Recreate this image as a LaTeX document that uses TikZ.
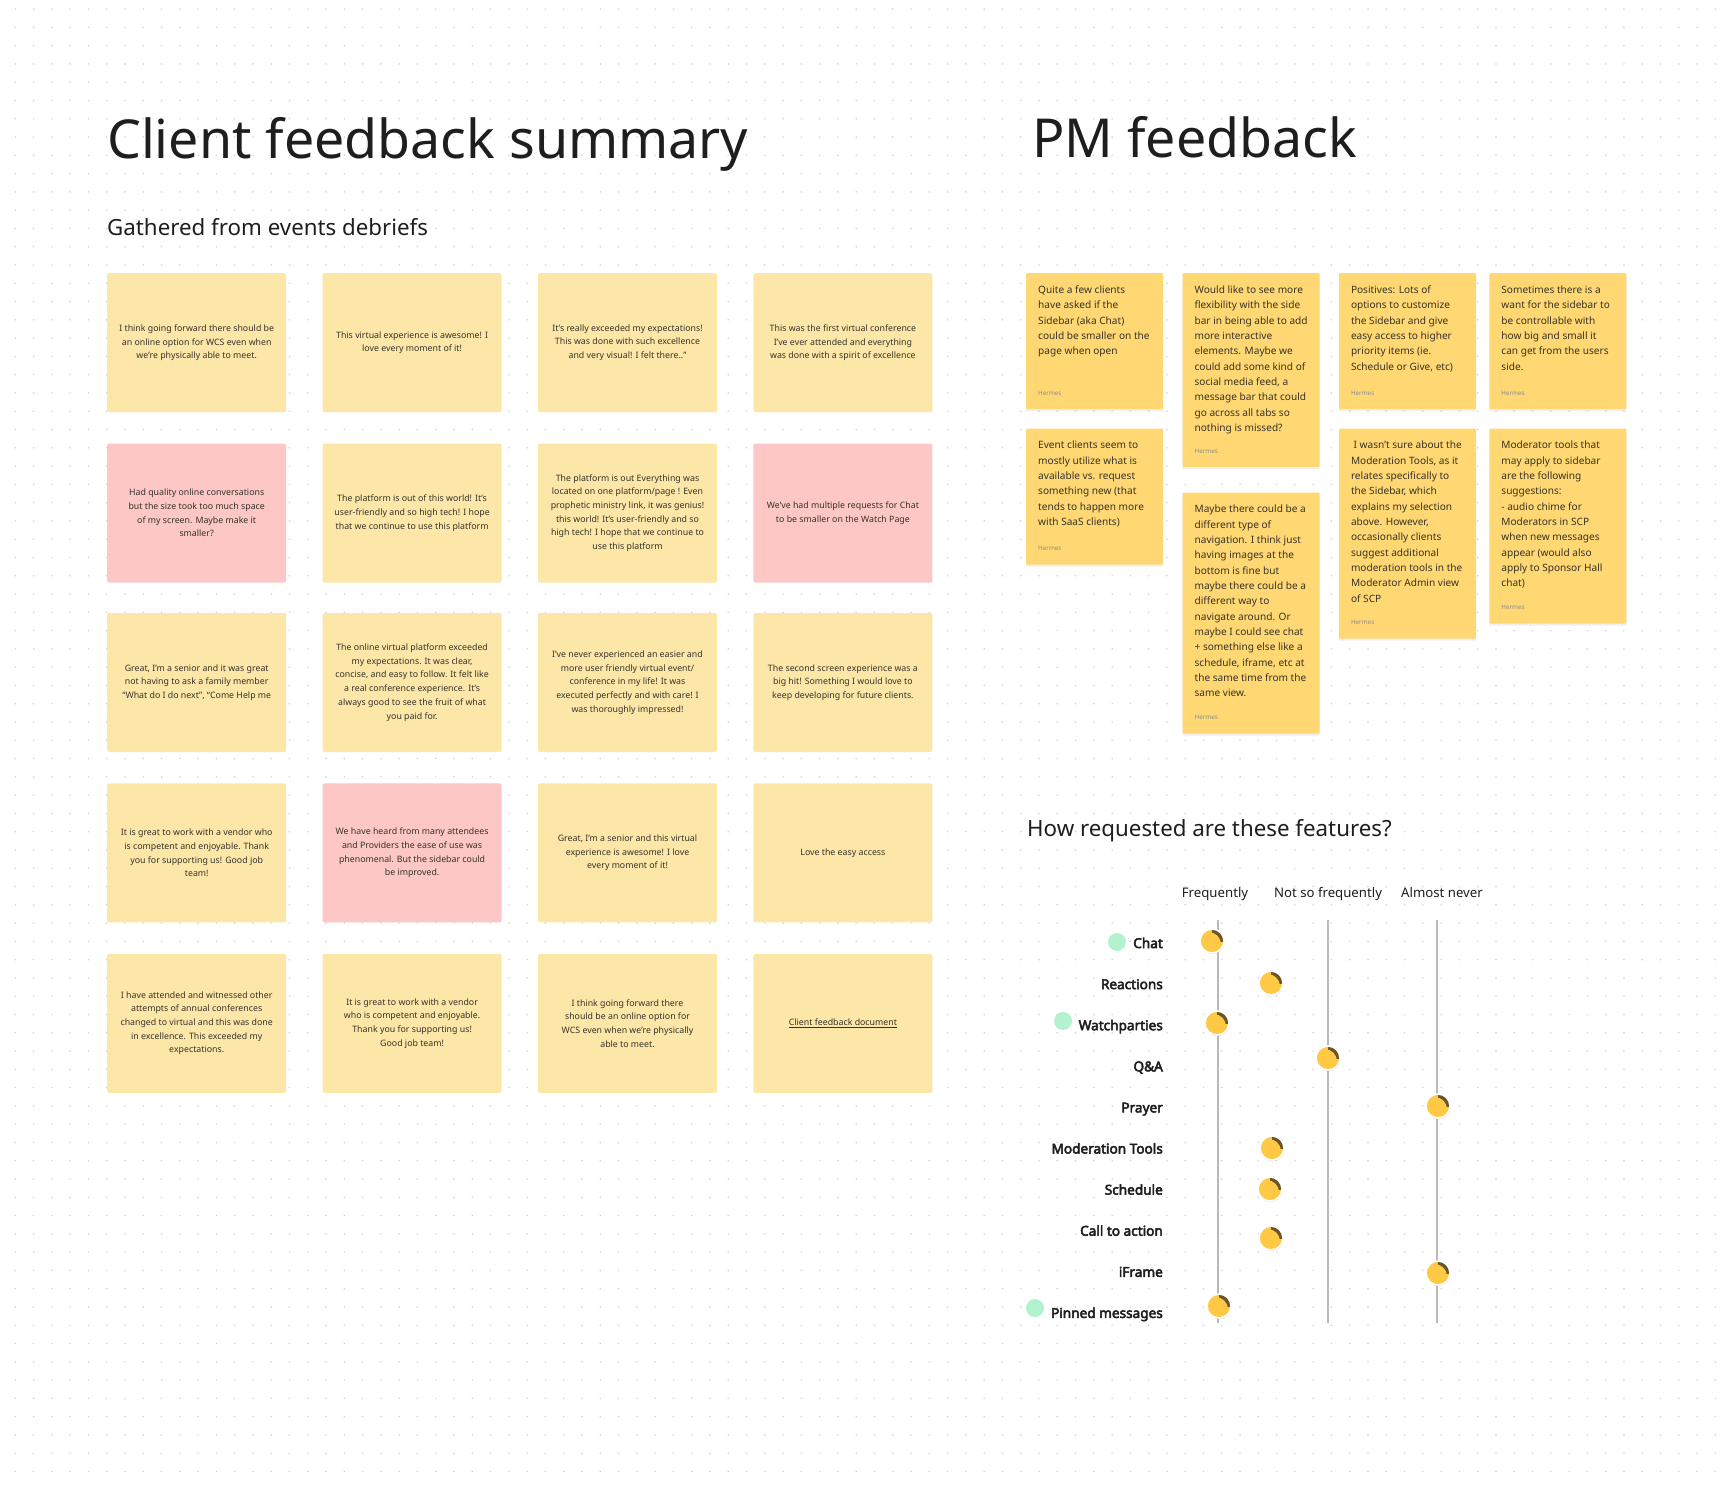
\documentclass[tikz,border=0pt]{standalone}
\usepackage{fontspec}
\setmainfont{Noto Sans}[AutoFakeBold=3.6]
\usetikzlibrary{positioning, shadows}

\definecolor{notelight}{RGB}{252,231,168}
\definecolor{notepink}{RGB}{252,199,196}
\definecolor{pmyellow}{RGB}{255,216,115}
\definecolor{stickeryellow}{RGB}{255,201,70}
\definecolor{curlbrown}{RGB}{105,86,40}
\definecolor{mint}{RGB}{178,242,206}
\definecolor{inkdark}{RGB}{30,30,30}
\definecolor{notetext}{RGB}{55,50,40}
\definecolor{dotgray}{RGB}{208,208,208}
\definecolor{scalegray}{RGB}{185,185,185}

\newcommand{\titlefont}{\fontsize{53.7}{60}\selectfont}
\newcommand{\subfont}{\fontsize{22.3}{26}\selectfont}
\newcommand{\clientfont}{\fontsize{8.8}{13.7}\selectfont}
\newcommand{\pmfont}{\fontsize{10.1}{15.33}\selectfont}
\newcommand{\byfont}{\fontsize{6.3}{8}\selectfont}
\newcommand{\headfont}{\fontsize{13.2}{16}\selectfont}
\newcommand{\rowfont}{\fontsize{13.6}{16}\selectfont\bfseries}

\tikzset{
    griddots/.style={draw=dotgray, line width=1.7pt, line cap=round, dash pattern=on 0pt off 18.28pt}, % the canvas dots
    titletext/.style={anchor=base west, inner sep=0pt, text=inkdark, font=\titlefont},
    subtext/.style={anchor=base west, inner sep=0pt, text=inkdark, font=\subfont},
    clientnote/.style={anchor=north west, fill=notelight, rounded corners=2pt, minimum width=179pt, minimum height=139pt, inner sep=4pt, align=center, text=notetext, font=\clientfont},
    clientpink/.style={clientnote, fill=notepink},
    pmnote/.style={anchor=north west, fill=pmyellow, rounded corners=1pt, minimum width=137pt, inner sep=0pt, drop shadow={shadow xshift=0pt, shadow yshift=-2pt, opacity=.12}},
    pmtext/.style={anchor=north west, inner xsep=12pt, inner ysep=12.5pt, align=left, text=notetext, font=\pmfont},
    byline/.style={anchor=base west, inner sep=0pt, text=black!45, font=\byfont},
    colhead/.style={anchor=base, inner sep=0pt, text=inkdark, font=\headfont},
    rowlabel/.style={anchor=base east, inner sep=0pt, text=inkdark, font=\rowfont},
    scaleline/.style={draw=scalegray, line width=1.3pt},
    mintdot/.style={circle, fill=mint, minimum size=18pt, inner sep=0pt},
    sticker/.style={circle, fill=stickeryellow, draw=white, line width=1.6pt, minimum size=24pt, inner sep=0pt,
        drop shadow={shadow xshift=0.4pt, shadow yshift=-1.4pt, opacity=.2},
        path picture={
            \clip (path picture bounding box.center) rectangle ++(15pt,15pt);
            \fill[curlbrown, even odd rule] (path picture bounding box.center) circle[radius=12pt]
                ([shift={(-3pt,-3pt)}]path picture bounding box.center) circle[radius=12pt];
        }}, % round pin with a curled edge
}

\begin{document}
\begin{tikzpicture}[x=1pt, y=-1pt]
\useasboundingbox (0,0) rectangle (1730,1488);
\fill[white] (0,0) rectangle (1730,1488);
% dotted canvas
\foreach \r in {0,...,80}
    \draw[griddots] (15.3,9.1+\r*18.28) -- (1730,9.1+\r*18.28);

% headings
\node[titletext] (t-client) at (107,158) {Client feedback summary};
\node[subtext] (t-gathered) at (107,235) {Gathered from events debriefs};
\node[titletext] (t-pm) at (1032,157) {PM feedback};

% client feedback notes
\node[clientnote] (c11) at (107,273) {I think going forward there should be\\an online option for WCS even when\\we're physically able to meet.};
\node[clientnote, right=36pt of c11] (c12) {This virtual experience is awesome! I\\love every moment of it!};
\node[clientnote, right=36pt of c12] (c13) {It's really exceeded my expectations!\\This was done with such excellence\\and very visual! I felt there..”};
\node[clientnote, right=36pt of c13] (c14) {This was the first virtual conference\\I've ever attended and everything\\was done with a spirit of excellence};

\node[clientpink, below=31pt of c11] (c21) {Had quality online conversations\\but the size took too much space\\of my screen. Maybe make it\\smaller?};
\node[clientnote, right=36pt of c21] (c22) {The platform is out of this world! It's\\user-friendly and so high tech! I hope\\that we continue to use this platform};
\node[clientnote, right=36pt of c22] (c23) {The platform is out Everything was\\located on one platform/page ! Even\\prophetic ministry link, it was genius!\\this world! It's user-friendly and so\\high tech! I hope that we continue to\\use this platform};
\node[clientpink, right=36pt of c23] (c24) {We've had multiple requests for Chat\\to be smaller on the Watch Page};

\node[clientnote, below=30pt of c21] (c31) {Great, I'm a senior and it was great\\not having to ask a family member\\“What do I do next”, “Come Help me};
\node[clientnote, right=36pt of c31] (c32) {The online virtual platform exceeded\\my expectations. It was clear,\\concise, and easy to follow. It felt like\\a real conference experience. It's\\always good to see the fruit of what\\you paid for.};
\node[clientnote, right=36pt of c32] (c33) {I've never experienced an easier and\\more user friendly virtual event/\\conference in my life! It was\\executed perfectly and with care! I\\was thoroughly impressed!};
\node[clientnote, right=36pt of c33] (c34) {The second screen experience was a\\big hit! Something I would love to\\keep developing for future clients.};

\node[clientnote, below=31pt of c31] (c41) {It is great to work with a vendor who\\is competent and enjoyable. Thank\\you for supporting us! Good job\\team!};
\node[clientpink, right=36pt of c41] (c42) {We have heard from many attendees\\and Providers the ease of use was\\phenomenal. But the sidebar could\\be improved.};
\node[clientnote, right=36pt of c42] (c43) {Great, I'm a senior and this virtual\\experience is awesome! I love\\every moment of it!};
\node[clientnote, right=36pt of c43] (c44) {Love the easy access};

\node[clientnote, below=31pt of c41] (c51) {I have attended and witnessed other\\attempts of annual conferences\\changed to virtual and this was done\\in excellence. This exceeded my\\expectations.};
\node[clientnote, right=36pt of c51] (c52) {It is great to work with a vendor\\who is competent and enjoyable.\\Thank you for supporting us!\\Good job team!};
\node[clientnote, right=36pt of c52] (c53) {I think going forward there\\should be an online option for\\WCS even when we're physically\\able to meet.};
\node[clientnote, right=36pt of c53] (c54) {\underline{Client feedback document}};

% PM feedback notes
\node[pmnote, minimum height=136pt] (pa) at (1026,273) {};
\node[pmnote, minimum height=194pt, right=19pt of pa.north east, anchor=north west] (pb) {};
\node[pmnote, minimum height=136pt, right=19pt of pb.north east, anchor=north west] (pc) {};
\node[pmnote, minimum height=136pt, right=13pt of pc.north east, anchor=north west] (pd) {};
\node[pmnote, minimum height=136pt, below=19pt of pa.south west, anchor=north west] (pe) {};
\node[pmnote, minimum height=241pt, below=25pt of pb.south west, anchor=north west] (pf) {};
\node[pmnote, minimum height=210pt, below=19pt of pc.south west, anchor=north west] (pg) {};
\node[pmnote, minimum height=195pt, below=19pt of pd.south west, anchor=north west] (ph) {};

\node[pmtext] (pa-txt) at (pa.north west) {Quite a few clients\\have asked if the\\Sidebar (aka Chat)\\could be smaller on the\\page when open};
\node[pmtext] (pb-txt) at (pb.north west) {Would like to see more\\flexibility with the side\\bar in being able to add\\more interactive\\elements. Maybe we\\could add some kind of\\social media feed, a\\message bar that could\\go across all tabs so\\nothing is missed?};
\node[pmtext] (pc-txt) at (pc.north west) {Positives: Lots of\\options to customize\\the Sidebar and give\\easy access to higher\\priority items (ie.\\Schedule or Give, etc)};
\node[pmtext] (pd-txt) at (pd.north west) {Sometimes there is a\\want for the sidebar to\\be controllable with\\how big and small it\\can get from the users\\side.};
\node[pmtext] (pe-txt) at (pe.north west) {Event clients seem to\\mostly utilize what is\\available vs. request\\something new (that\\tends to happen more\\with SaaS clients)};
\node[pmtext] (pf-txt) at (pf.north west) {Maybe there could be a\\different type of\\navigation. I think just\\having images at the\\bottom is fine but\\maybe there could be a\\different way to\\navigate around. Or\\maybe I could see chat\\+ something else like a\\schedule, iframe, etc at\\the same time from the\\same view.};
\node[pmtext] (pg-txt) at (pg.north west) {\ I wasn't sure about the\\Moderation Tools, as it\\relates specifically to\\the Sidebar, which\\explains my selection\\above. However,\\occasionally clients\\suggest additional\\moderation tools in the\\Moderator Admin view\\of SCP};
\node[pmtext] (ph-txt) at (ph.north west) {Moderator tools that\\may apply to sidebar\\are the following\\suggestions:\\- audio chime for\\Moderators in SCP\\when new messages\\appear (would also\\apply to Sponsor Hall\\chat)};

\foreach \n in {pa,pb,pc,pd,pe,pf,pg,ph}
    \node[byline] (\n-by) at ([shift={(12,-14)}]\n.south west) {Hermes};

% feature chart
\node[subtext] (t-features) at (1027,836) {How requested are these features?};
\node[colhead] (freq) at (1215,897) {Frequently};
\node[colhead] (notso) at (1328,897) {Not so frequently};
\node[colhead] (never) at (1442,897) {Almost never};
\coordinate (freq-top) at (1218,920);
\coordinate (notso-top) at (1328,920);
\coordinate (never-top) at (1437,920);
\coordinate (scale-bot) at (0,1323);
\foreach \c in {freq,notso,never}
    \draw[scaleline] (\c-top) -- (\c-top |- scale-bot);

\foreach \lbl [count=\i] in {Chat, Reactions, Watchparties, Q\&A, Prayer, Moderation Tools, Schedule, Call to action, iFrame, Pinned messages}
    \node[rowlabel] (row\i) at (1163,906.9+41.1*\i) {\lbl};

\node[mintdot] (dot1) at (1117,942) {};
\node[mintdot] (dot3) at (1063,1021) {};
\node[mintdot] (dot10) at (1035,1308) {};

\foreach \i/\sx/\sy in {1/1212/941, 2/1271/983, 3/1217/1023, 4/1328/1058, 5/1438/1106, 6/1272/1148, 7/1270/1189, 8/1271/1238, 9/1438/1273, 10/1219/1306}
    \node[sticker] (pin\i) at (\sx,\sy) {};
\end{tikzpicture}
\end{document}
